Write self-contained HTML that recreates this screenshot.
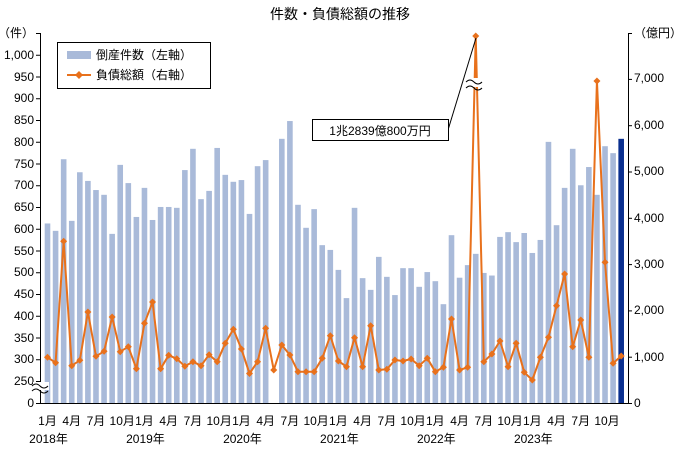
<!DOCTYPE html>
<html><head><meta charset="utf-8"><style>
body{margin:0;background:#fff;width:680px;height:458px;overflow:hidden}
svg text{font-family:"Liberation Sans","Noto Sans CJK JP",sans-serif;font-size:12px;fill:#000}
</style></head><body>
<svg id="s" width="680" height="458" xmlns="http://www.w3.org/2000/svg">
<text x="340" y="19" text-anchor="middle" style="font-size:14px">件数・負債総額の推移</text>
<g id="bars"></g>
<g id="line"></g>
<!-- axes -->
<line x1="40.5" y1="33" x2="40.5" y2="403" stroke="#000"/>
<line x1="628.5" y1="33" x2="628.5" y2="403" stroke="#000"/>
<line x1="40" y1="403.5" x2="629" y2="403.5" stroke="#000"/>
<g id="ticks" stroke="#000"></g>
<g text-anchor="end">
<text x="34" y="37">（件）</text>
<text x="34" y="59">1,000</text><text x="34" y="81">950</text><text x="34" y="102">900</text>
<text x="34" y="124">850</text><text x="34" y="146">800</text><text x="34" y="168">750</text>
<text x="34" y="189">700</text><text x="34" y="211">650</text><text x="34" y="233">600</text>
<text x="34" y="255">550</text><text x="34" y="276">500</text><text x="34" y="298">450</text>
<text x="34" y="320">400</text><text x="34" y="342">350</text><text x="34" y="363">300</text>
<text x="34" y="385">250</text><text x="34" y="407">0</text>
</g>
<g>
<text x="634" y="37">（億円）</text>
<text x="634" y="82">7,000</text><text x="634" y="129">6,000</text><text x="634" y="175">5,000</text>
<text x="634" y="222">4,000</text><text x="634" y="268">3,000</text><text x="634" y="314">2,000</text>
<text x="634" y="361">1,000</text><text x="634" y="407">0</text>
</g>
<g id="xl" text-anchor="middle"></g>
<!-- break on left axis -->
<rect x="33" y="382" width="16" height="8" fill="#fff"/>
<path d="M32 386 q4 -4 8 0 t8 0 M32 391 q4 -4 8 0 t8 0" stroke="#000" fill="none"/>
<!-- break on spike -->
<rect x="466" y="78" width="18" height="9" fill="#fff"/>
<path d="M466 82 q4 -4 8 0 t8 0 M466 88 q4 -4 8 0 t8 0" stroke="#000" fill="none"/>
<!-- annotation -->
<line x1="448" y1="130" x2="476" y2="38" stroke="#000"/>
<rect x="312.5" y="119.5" width="136" height="21" fill="#fff" stroke="#000"/>
<text x="380" y="135" text-anchor="middle">1兆2839億800万円</text>
<!-- legend -->
<rect x="57.5" y="42.5" width="153" height="46" fill="#fff" stroke="#000"/>
<rect x="67" y="51" width="24" height="8" fill="#a9bad9"/>
<text x="96" y="59">倒産件数（左軸）</text>
<line x1="67" y1="75" x2="91" y2="75" stroke="#e8711c" stroke-width="2"/>
<path d="M79 71 L83 75 L79 79 L75 75Z" fill="#e8711c"/>
<text x="96" y="79">負債総額（右軸）</text>
</svg>
<script>
var bars=[613,596,761,619,731,711,690,679,589,748,706,628,695,621,651,651,649,736,785,669,688,787,725,709,713,635,745,759,0,808,849,656,603,646,563,552,506,441,649,487,460,536,490,448,510,510,467,501,480,427,586,488,517,543,499,493,582,593,570,591,545,575,801,609,695,785,701,743,679,791,775,808];
var ly=[357.3,362.7,241.3,365.7,360.3,312,356.3,351.3,317,351.7,346.7,368.7,323.3,302,368.7,355.3,358.7,366.3,361.7,365.7,354.7,361.7,343.3,329.3,349,373.5,361.7,328.3,370,345,355,371.7,371.7,371.7,358.3,335.7,361,366.7,337.7,366.7,325.7,370,369.3,360,361,359,365.7,358.3,371.7,367.3,319,370,367.3,36,361.7,354,341,366.7,343.3,372.3,380,357.3,337.3,305.7,274,346.7,320,357.3,81,262.3,363.3,356];
var ns="http://www.w3.org/2000/svg";
function el(t,a,p){var e=document.createElementNS(ns,t);for(var k in a)e.setAttribute(k,a[k]);document.getElementById(p).appendChild(e);return e;}
function X(i){return 47.5+i*8.08;}
bars.forEach(function(v,i){if(!v)return;var y=381-(v-250)*0.434;el('rect',{x:X(i)-2.8,y:y,width:5.6,height:403-y,fill:i==71?'#0a2f8f':'#a9bad9'},'bars');});
var d=ly.map(function(y,i){return (i?'L':'M')+X(i)+' '+y;}).join(' ');
el('path',{d:d,stroke:'#e8711c','stroke-width':2,fill:'none','stroke-linejoin':'round'},'line');
ly.forEach(function(y,i){var x=X(i);el('path',{d:'M'+x+' '+(y-3.5)+'L'+(x+3.5)+' '+y+'L'+x+' '+(y+3.5)+'L'+(x-3.5)+' '+y+'Z',fill:'#e8711c'},'line');});
for(var k=0;k<=17;k++){var y=33+k*21.75;if(k==17)y=403;el('line',{x1:36,x2:40,y1:y+.5,y2:y+.5},'ticks');}
for(var k=0;k<=8;k++){var y=403-k*46.3;if(k==8)y=33;el('line',{x1:628,x2:632,y1:y+.5,y2:y+.5},'ticks');}
var m=['1月','4月','7月','10月'];
for(var yr=0;yr<6;yr++){for(var q=0;q<4;q++){var i=yr*12+q*3;var t=el('text',{x:X(i)+(q==3?2:0),y:425},'xl');t.textContent=m[q];}
var t2=el('text',{x:X(yr*12)+1,y:443},'xl');t2.textContent=(2018+yr)+'年';}
</script>
</body></html>
